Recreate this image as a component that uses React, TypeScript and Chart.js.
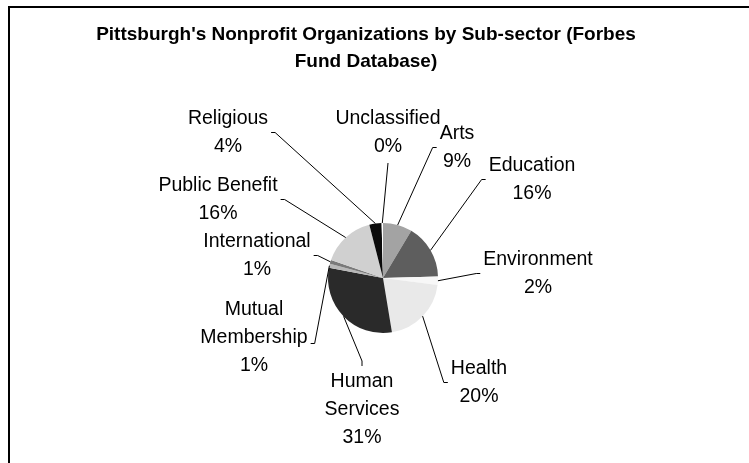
import React, { useEffect, useRef } from "react";
import { Chart, registerables } from "chart.js";

Chart.register(...registerables);

// ---- data ----
const TITLE_LINES = ["Pittsburgh's Nonprofit Organizations by Sub-sector (Forbes", "Fund Database)"];
const CATEGORIES = [
  "Arts",
  "Education",
  "Environment",
  "Health",
  "Human Services",
  "Mutual Membership",
  "International",
  "Public Benefit",
  "Religious",
  "Unclassified",
];
const SHARES = [8.6, 16.0, 2.4, 20.4, 30.6, 1.2, 1.1, 15.7, 3.6, 0.4];
const SLICE_COLORS = [
  "#a3a3a3",
  "#5e5e5e",
  "#f7f7f7",
  "#e9e9e9",
  "#2a2a2a",
  "#b8b8b8",
  "#7a7a7a",
  "#d0d0d0",
  "#0b0b0b",
  "#ffffff",
];

// ---- label layout (offsets of each label block from the pie centre, px) ----
type Side = "left" | "right" | "top" | "bottom";
const LABEL_LAYOUT: { dx: number; dy: number; side: Side; wrap?: boolean; hookDy?: number }[] = [
  { dx: 74, dy: -132, side: "left" },
  { dx: 149, dy: -100, side: "left" },
  { dx: 155, dy: -6, side: "left" },
  { dx: 96, dy: 103, side: "left" },
  { dx: -21, dy: 130, side: "top", wrap: true },
  { dx: -129, dy: 58, side: "right", wrap: true, hookDy: 6 },
  { dx: -126, dy: -24, side: "right" },
  { dx: -165, dy: -80, side: "right" },
  { dx: -155, dy: -147, side: "right" },
  { dx: 5, dy: -147, side: "bottom" },
];

const LABEL_FONT = '19.5px "Liberation Sans", Arial, sans-serif';
const TITLE_FONT = 'bold 19px "Liberation Sans", Arial, sans-serif';
const LINE_GAP = 28;

const framePlugin = {
  id: "frame",
  beforeDraw(chart: any) {
    const ctx = chart.ctx;
    ctx.save();
    ctx.fillStyle = "#ffffff";
    ctx.fillRect(0, 0, chart.width, chart.height);
    ctx.fillStyle = "#000000";
    ctx.fillRect(8, 6, 2, chart.height);
    ctx.fillRect(8, 6, chart.width, 2);
    ctx.restore();
  },
};

const titlePlugin = {
  id: "customTitle",
  afterDraw(chart: any) {
    const ctx = chart.ctx;
    ctx.save();
    ctx.font = TITLE_FONT;
    ctx.fillStyle = "#000000";
    ctx.textAlign = "center";
    ctx.textBaseline = "alphabetic";
    const cx = 366;
    const baselines = [40, 66.5];
    TITLE_LINES.forEach((t, i) => ctx.fillText(t, cx, baselines[i]));
    ctx.restore();
  },
};

const labelPlugin = {
  id: "outsideLabels",
  afterDatasetsDraw(chart: any) {
    const ctx = chart.ctx;
    const meta = chart.getDatasetMeta(0);
    const data = chart.data.datasets[0].data as number[];
    const total = data.reduce((a, b) => a + b, 0);
    ctx.save();
    ctx.font = LABEL_FONT;
    ctx.fillStyle = "#000000";
    ctx.strokeStyle = "#000000";
    ctx.lineWidth = 1;
    ctx.textAlign = "center";
    ctx.textBaseline = "alphabetic";
    meta.data.forEach((arc: any, i: number) => {
      const lay = LABEL_LAYOUT[i];
      const name = chart.data.labels[i] as string;
      const pct = Math.round((data[i] / total) * 100) + "%";
      const lines = lay.wrap ? [...name.split(" "), pct] : [name, pct];
      const cx = arc.x + lay.dx;
      const cy = arc.y + lay.dy;
      const n = lines.length;
      let maxW = 0;
      lines.forEach((l) => (maxW = Math.max(maxW, ctx.measureText(l).width)));
      lines.forEach((l, k) => {
        const midY = cy + (k - (n - 1) / 2) * LINE_GAP;
        ctx.fillText(l, cx, midY + 7);
      });
      // leader line
      const mid = (arc.startAngle + arc.endAngle) / 2;
      const px = arc.x + Math.cos(mid) * arc.outerRadius;
      const py = arc.y + Math.sin(mid) * arc.outerRadius;
      const hy = cy + 1.5 + (lay.hookDy || 0);
      ctx.beginPath();
      ctx.moveTo(px, py);
      if (lay.side === "left") {
        const hx = cx - maxW / 2 - 3;
        ctx.lineTo(hx - 4, hy);
        ctx.lineTo(hx, hy);
      } else if (lay.side === "right") {
        const hx = cx + maxW / 2 + 3;
        ctx.lineTo(hx + 4, hy);
        ctx.lineTo(hx, hy);
      } else if (lay.side === "top") {
        const top = cy - ((n - 1) / 2) * LINE_GAP - 14;
        ctx.lineTo(cx, top - 5);
        ctx.lineTo(cx, top);
      } else {
        const bottom = cy + ((n - 1) / 2) * LINE_GAP + 18;
        ctx.lineTo(cx, bottom);
      }
      ctx.stroke();
    });
    ctx.restore();
  },
};

export default function App() {
  const ref = useRef<HTMLCanvasElement | null>(null);
  useEffect(() => {
    if (!ref.current) return;
    const chart = new Chart(ref.current, {
      type: "pie",
      data: {
        labels: CATEGORIES,
        datasets: [
          {
            data: SHARES,
            backgroundColor: SLICE_COLORS,
            borderWidth: 0,
            radius: 55,
          } as any,
        ],
      },
      options: {
        animation: false,
        responsive: false,
        devicePixelRatio: 1,
        layout: { padding: { left: 283, right: 266, top: 178, bottom: 85 } },
        plugins: {
          legend: { display: false },
          tooltip: { enabled: false },
          title: { display: false },
        },
      },
      plugins: [framePlugin, titlePlugin, labelPlugin],
    });
    return () => chart.destroy();
  }, []);
  return (
    <div style={{ position: "fixed", left: 0, top: 0, width: 749, height: 463, background: "#fff" }}>
      <canvas ref={ref} width={749} height={463} style={{ width: 749, height: 463, display: "block" }} />
    </div>
  );
}
